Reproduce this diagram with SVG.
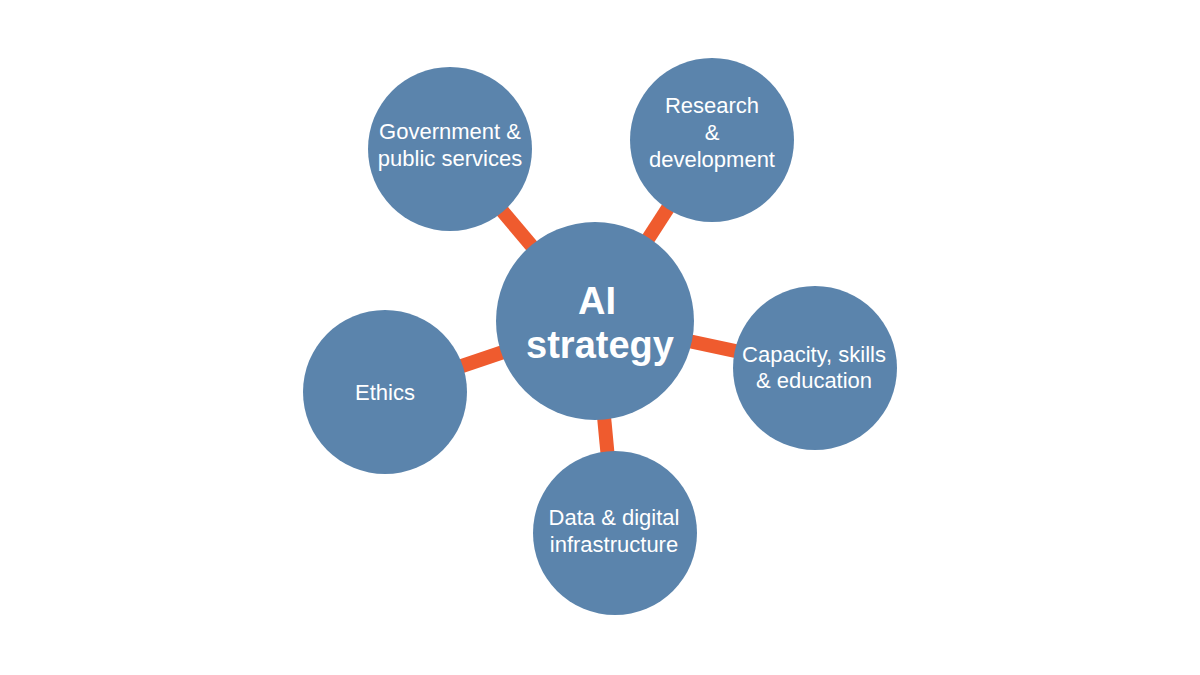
<svg xmlns="http://www.w3.org/2000/svg" width="1200" height="675" viewBox="0 0 1200 675">
<style>
.node{fill:#5B84AC}
.t{font-family:"Liberation Sans",Arial,Helvetica,sans-serif;font-size:22px;fill:#ffffff;text-anchor:middle}
.big{font-family:"Liberation Sans",Arial,Helvetica,sans-serif;font-size:38px;font-weight:bold;fill:#ffffff;text-anchor:middle}
.link{stroke:#EF5B2E;stroke-width:14;fill:none}
</style>
<rect width="1200" height="675" fill="#ffffff"/>
<g id="connectors">
<line class="link" x1="595" y1="321" x2="450" y2="149"/>
<line class="link" x1="595" y1="321" x2="712" y2="140"/>
<line class="link" x1="595" y1="321" x2="815" y2="368"/>
<line class="link" x1="595" y1="321" x2="615" y2="533"/>
<line class="link" x1="595" y1="321" x2="385" y2="392"/>
</g>
<g id="gov">
<circle class="node" cx="450" cy="149" r="82"/>
<text class="t" x="450" y="139">Government &amp;</text>
<text class="t" x="450" y="166">public services</text>
</g>
<g id="research">
<circle class="node" cx="712" cy="140" r="82"/>
<text class="t" x="712" y="113">Research</text>
<text class="t" x="712" y="140">&amp;</text>
<text class="t" x="712" y="167">development</text>
</g>
<g id="capacity">
<circle class="node" cx="815" cy="368" r="82"/>
<text class="t" x="814" y="362">Capacity, skills</text>
<text class="t" x="814" y="388">&amp; education</text>
</g>
<g id="data">
<circle class="node" cx="615" cy="533" r="82"/>
<text class="t" x="614" y="525">Data &amp; digital</text>
<text class="t" x="614" y="552">infrastructure</text>
</g>
<g id="ethics">
<circle class="node" cx="385" cy="392" r="82"/>
<text class="t" x="385" y="400">Ethics</text>
</g>
<g id="center">
<circle class="node" cx="595" cy="321" r="99"/>
<text class="big" x="597" y="314">AI</text>
<text class="big" x="600" y="358">strategy</text>
</g>
</svg>
